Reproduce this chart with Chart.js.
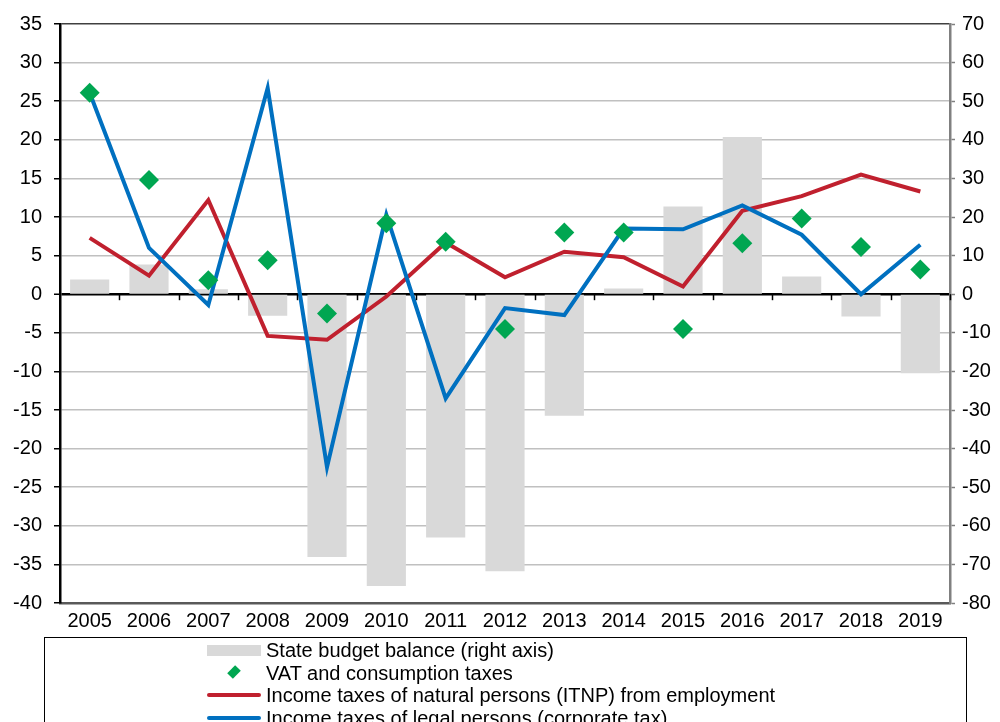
<!DOCTYPE html>
<html>
<head>
<meta charset="utf-8">
<script src="https://cdn.jsdelivr.net/npm/chart.js@4/dist/chart.umd.min.js"></script>
<style>
    body { margin: 0; background: #fff; }
    #wrap { position: relative; width: 1000px; height: 722px; overflow: hidden; }
    #legend {
        position: absolute; left: 44px; top: 637px; width: 921px; height: 120px;
        border: 1px solid #000; font-family: "Liberation Sans", Arial, sans-serif; font-size: 20px; color: #000;
    }
    .row { position: absolute; left: 0; height: 22px; line-height: 22px; }
    .sym { position: absolute; left: 162px; width: 54px; height: 22px; }
    .txt { position: absolute; left: 221px; white-space: nowrap; }
</style>
</head>
<body>
<div id="wrap">
    <canvas id="chart" width="1000" height="722"></canvas>
    <div id="legend"></div>
</div>
<script>
const years = ['2005', '2006', '2007', '2008', '2009', '2010', '2011', '2012', '2013', '2014', '2015', '2016', '2017', '2018', '2019'];
const budgetBalance = [3.8, 7.7, 1.3, -5.6, -68.1, -75.6, -63.0, -71.8, -31.5, 1.5, 22.7, 40.7, 4.6, -5.8, -20.5];
const vatTaxes = [26.1, 14.8, 1.8, 4.4, -2.5, 9.2, 6.8, -4.5, 8.0, 8.0, -4.5, 6.6, 9.8, 6.1, 3.2];
const itnpTaxes = [7.3, 2.4, 12.2, -5.4, -5.9, -0.3, 6.7, 2.2, 5.5, 4.8, 1.0, 10.8, 12.7, 15.5, 13.3];
const corporateTax = [26.1, 6.0, -1.4, 26.7, -22.4, 10.3, -13.5, -1.8, -2.7, 8.5, 8.4, 11.5, 7.7, 0.0, 6.4];

const labels = {
    budget: 'State budget balance (right axis)',
    vat: 'VAT and consumption taxes',
    itnp: 'Income taxes of natural persons (ITNP) from employment',
    corp: 'Income taxes of legal persons (corporate tax)'
};

const FONT = '"Liberation Sans", Arial, sans-serif';

// small tick marks on the zero line between categories
const zeroTicks = {
    id: 'zeroTicks',
    afterDatasetsDraw(chart) {
        const x = chart.scales.x;
        const y0 = chart.scales.y.getPixelForValue(0);
        const ctx = chart.ctx;
        const step = (x.right - x.left) / years.length;
        ctx.save();
        ctx.strokeStyle = '#000';
        ctx.lineWidth = 1.5;
        for (let i = 1; i <= years.length; i++) {
            const px = Math.round(x.left + step * i) + 0.5;
            ctx.beginPath();
            ctx.moveTo(px, y0);
            ctx.lineTo(px, y0 + 6);
            ctx.stroke();
        }
        ctx.restore();
    }
};

new Chart(document.getElementById('chart'), {
    type: 'bar',
    data: {
        labels: years,
        datasets: [{
            label: labels.vat,
            data: vatTaxes,
            type: 'line',
            showLine: false,
            pointStyle: 'rectRot',
            pointRadius: 10,
            pointBackgroundColor: '#00A651',
            pointBorderWidth: 0,
            backgroundColor: '#00A651',
            yAxisID: 'y',
            order: 0
        }, {
            label: labels.corp,
            data: corporateTax,
            type: 'line',
            borderColor: '#0070C0',
            backgroundColor: '#0070C0',
            borderWidth: 4,
            pointRadius: 0,
            tension: 0,
            yAxisID: 'y',
            order: 1
        }, {
            label: labels.itnp,
            data: itnpTaxes,
            type: 'line',
            borderColor: '#C0202E',
            backgroundColor: '#C0202E',
            borderWidth: 4,
            pointRadius: 0,
            tension: 0,
            yAxisID: 'y',
            order: 2
        }, {
            label: labels.budget,
            data: budgetBalance,
            backgroundColor: '#D9D9D9',
            categoryPercentage: 1,
            barPercentage: 0.66,
            yAxisID: 'y1',
            order: 3
        }]
    },
    options: {
        responsive: false,
        animation: false,
        layout: { padding: { top: 23, left: 0, right: 0, bottom: 0 } },
        plugins: {
            legend: { display: false },
            title: { display: false },
            tooltip: { enabled: false }
        },
        scales: {
            x: {
                grid: { drawOnChartArea: false, drawTicks: false },
                border: { color: '#595959', width: 2.5 },
                ticks: { font: { family: FONT, size: 20 }, color: '#000', padding: 6, maxRotation: 0 },
                afterFit(scale) { scale.height = 722 - 603; }
            },
            y: {
                position: 'left',
                min: -40,
                max: 35,
                ticks: { stepSize: 5, font: { family: FONT, size: 20 }, color: '#000', padding: 12 },
                grid: {
                    color: (c) => c.tick.value === 0 ? '#000' : (c.tick.value === 35 ? '#404040' : '#C0C0C0'),
                    lineWidth: (c) => c.tick.value === 0 ? 2.5 : 1.5,
                    tickColor: '#000',
                    tickLength: 6,
                    tickWidth: 1.5
                },
                border: { color: '#000', width: 2.5 },
                afterFit(scale) { scale.width = 60; }
            },
            y1: {
                position: 'right',
                min: -80,
                max: 70,
                ticks: { stepSize: 10, font: { family: FONT, size: 20 }, color: '#000', padding: 7 },
                grid: { drawOnChartArea: false, tickColor: '#808080', tickLength: 5, tickWidth: 1.5 },
                border: { color: '#808080', width: 2.5 },
                afterFit(scale) { scale.width = 50; }
            }
        }
    },
    plugins: [zeroTicks]
});

// legend box below the axis labels
const legendRows = [
    { text: labels.budget, sym: '<div style="position:absolute;left:0;top:6px;width:54px;height:11px;background:#D9D9D9"></div>' },
    { text: labels.vat, sym: '<div style="position:absolute;left:23px;top:6px;width:8px;height:8px;background:#00A651;transform:rotate(45deg) scaleY(1.4)"></div>' },
    { text: labels.itnp, sym: '<div style="position:absolute;left:0;top:9px;width:54px;height:4px;border-radius:2px;background:#C0202E"></div>' },
    { text: labels.corp, sym: '<div style="position:absolute;left:0;top:9px;width:54px;height:4px;border-radius:2px;background:#0070C0"></div>' }
];
const legendEl = document.getElementById('legend');
legendRows.forEach(function (r, i) {
    const row = document.createElement('div');
    row.className = 'row';
    row.style.top = (1 + i * 22.5) + 'px';
    row.innerHTML = '<div class="sym">' + r.sym + '</div><span class="txt">' + r.text + '</span>';
    legendEl.appendChild(row);
});
</script>
</body>
</html>
